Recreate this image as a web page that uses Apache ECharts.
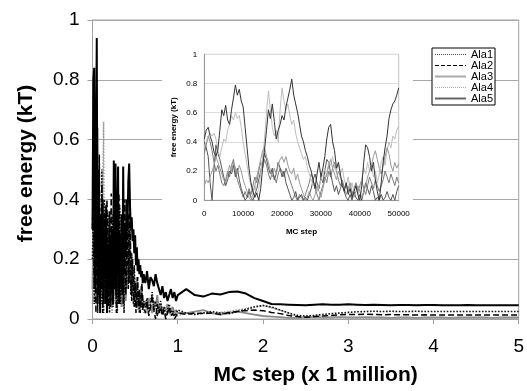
<!DOCTYPE html>
<html><head><meta charset="utf-8">
<script src="https://cdn.jsdelivr.net/npm/echarts@6/dist/echarts.min.js"></script>
<style>html,body{margin:0;padding:0;background:#fff}#c{width:527px;height:391px}</style>
</head><body><div id="c"></div>
<script>
// ---------- main chart data (x in millions of MC steps) ----------
const xMain = [
0,0.01,0.02,0.03,0.04,0.05,0.06,0.07,0.08,0.09,
0.10,0.11,0.12,0.13,0.14,0.15,0.16,0.17,0.18,0.19,
0.20,0.21,0.22,0.23,0.24,0.25,0.26,0.27,0.28,0.29,
0.30,0.31,0.32,0.33,0.34,0.35,0.36,0.37,0.38,0.39,
0.40,0.41,0.42,0.43,0.44,0.45,0.46,0.47,0.48,0.49,
0.50,0.51,0.52,0.53,0.54,0.55,0.56,0.57,0.58,0.59,0.60,
0.62,0.64,0.66,0.68,0.70,0.72,0.74,0.76,0.78,0.80,
0.82,0.84,0.86,0.88,0.90,0.92,0.94,0.96,0.98,1.00,
1.1,1.2,1.3,1.4,1.5,1.6,1.7,1.8,1.9,2.0,
2.1,2.2,2.3,2.4,2.5,2.6,2.7,2.8,2.9,3.0,
3.1,3.2,3.3,3.4,3.5,3.6,3.7,3.8,3.9,4.0,
4.1,4.2,4.3,4.4,4.5,4.6,4.7,4.8,4.9,5.0];

const mainAla1 = [
0.20,0.40,0.05,0.60,0.15,0.30,0.02,0.45,0.10,0.35,
0.05,0.50,0.20,0.02,0.40,0.10,0.30,0.05,0.35,0.15,
0.02,0.28,0.10,0.35,0.04,0.20,0.32,0.08,0.25,0.02,
0.30,0.12,0.38,0.05,0.22,0.15,0.32,0.02,0.20,0.28,
0.10,0.25,0.35,0.12,0.30,0.08,0.22,0.15,0.05,0.18,
0.08,0.12,0.04,0.10,0.06,0.02,0.08,0.04,0.09,0.03,0.06,
0.04,0.07,0.02,0.05,0.09,0.03,0.06,0.01,0.04,0.06,
0.02,0.04,0.01,0.03,0.05,0.02,0.03,0.01,0.02,0.03,
0.02,0.015,0.02,0.025,0.02,0.018,0.025,0.032,0.04,0.045,
0.04,0.03,0.02,0.012,0.01,0.012,0.015,0.018,0.02,0.022,
0.024,0.025,0.026,0.025,0.026,0.025,0.025,0.026,0.025,0.025,
0.025,0.025,0.025,0.025,0.025,0.025,0.025,0.025,0.025,0.025];

const mainAla2 = [
0.30,0.55,0.10,0.40,0.02,0.48,0.20,0.08,0.55,0.05,
0.30,0.45,0.02,0.22,0.35,0.05,0.28,0.40,0.10,0.04,
0.30,0.18,0.42,0.06,0.25,0.12,0.30,0.20,0.02,0.38,
0.15,0.42,0.05,0.25,0.10,0.30,0.05,0.22,0.40,0.08,
0.20,0.35,0.10,0.28,0.40,0.15,0.06,0.20,0.10,0.04,
0.12,0.02,0.08,0.14,0.04,0.10,0.02,0.06,0.12,0.03,0.05,
0.02,0.06,0.01,0.04,0.08,0.03,0.00,0.05,0.02,0.04,
0.01,0.03,0.00,0.02,0.04,0.01,0.02,0.00,0.01,0.02,
0.015,0.02,0.018,0.02,0.015,0.022,0.025,0.028,0.03,0.028,
0.022,0.018,0.012,0.008,0.006,0.008,0.01,0.012,0.014,0.015,
0.015,0.016,0.015,0.014,0.015,0.014,0.014,0.013,0.014,0.013,
0.013,0.013,0.013,0.013,0.013,0.013,0.013,0.013,0.013,0.013];

const mainAla3 = [
0.10,0.35,0.20,0.50,0.05,0.40,0.64,0.15,0.30,0.08,
0.25,0.10,0.35,0.18,0.05,0.28,0.12,0.30,0.06,0.22,
0.14,0.26,0.04,0.18,0.30,0.10,0.22,0.05,0.18,0.26,
0.08,0.20,0.12,0.28,0.04,0.16,0.24,0.10,0.18,0.06,
0.15,0.22,0.28,0.18,0.12,0.20,0.10,0.16,0.08,0.12,
0.06,0.10,0.14,0.08,0.04,0.09,0.06,0.11,0.05,0.08,0.04,
0.06,0.03,0.07,0.05,0.02,0.06,0.04,0.08,0.03,0.05,
0.02,0.04,0.03,0.05,0.02,0.03,0.04,0.02,0.03,0.02,
0.02,0.025,0.03,0.02,0.015,0.02,0.025,0.02,0.015,0.01,
0.008,0.006,0.004,0.004,0.005,0.006,0.005,0.005,0.006,0.005,
0.005,0.006,0.005,0.005,0.004,0.005,0.005,0.004,0.005,0.005,
0.005,0.004,0.005,0.005,0.005,0.005,0.004,0.005,0.005,0.005];

const mainAla4 = [
0.05,0.25,0.10,0.40,0.20,0.05,0.35,0.12,0.45,0.20,
0.30,0.08,0.40,0.66,0.15,0.35,0.05,0.25,0.12,0.30,
0.08,0.22,0.15,0.02,0.28,0.18,0.06,0.25,0.12,0.20,
0.05,0.18,0.26,0.10,0.20,0.04,0.15,0.28,0.12,0.22,
0.18,0.30,0.14,0.22,0.32,0.10,0.16,0.08,0.14,0.06,
0.10,0.04,0.08,0.03,0.07,0.02,0.05,0.08,0.03,0.06,0.02,
0.05,0.02,0.04,0.06,0.02,0.03,0.05,0.01,0.03,0.02,
0.04,0.02,0.01,0.03,0.02,0.01,0.02,0.01,0.02,0.01,
0.02,0.015,0.02,0.018,0.022,0.025,0.03,0.035,0.042,0.045,
0.038,0.03,0.02,0.01,0.005,0.004,0.004,0.005,0.006,0.005,
0.004,0.003,0.004,0.003,0.003,0.004,0.003,0.003,0.003,0.003,
0.003,0.003,0.003,0.003,0.003,0.003,0.003,0.003,0.003,0.003];

const mainAla5 = [
0.30,0.80,0.84,0.10,0.52,0.94,0.05,0.50,0.20,0.02,
0.35,0.10,0.40,0.05,0.30,0.15,0.38,0.02,0.25,0.10,
0.36,0.04,0.20,0.30,0.05,0.53,0.10,0.52,0.08,0.30,
0.51,0.05,0.28,0.12,0.35,0.08,0.51,0.15,0.32,0.22,
0.40,0.30,0.46,0.52,0.38,0.30,0.34,0.26,0.30,0.22,
0.28,0.18,0.24,0.16,0.20,0.15,0.18,0.14,0.16,0.12,0.15,
0.12,0.16,0.10,0.14,0.13,0.11,0.15,0.12,0.10,0.08,
0.11,0.07,0.09,0.06,0.08,0.10,0.07,0.09,0.06,0.08,
0.10,0.08,0.075,0.085,0.082,0.09,0.092,0.085,0.07,0.06,
0.05,0.049,0.048,0.047,0.046,0.048,0.049,0.048,0.048,0.049,
0.048,0.047,0.048,0.047,0.046,0.047,0.047,0.046,0.047,0.047,
0.046,0.046,0.046,0.047,0.046,0.046,0.046,0.046,0.046,0.046];

// ---------- inset data (first 50000 MC steps) ----------
const xInset = [
0,500,1000,1500,2000,2500,3000,3500,4000,4500,
5000,5500,6000,6500,7000,7500,8000,8500,9000,9500,
10000,10500,11000,11500,12000,12500,13000,13500,14000,14500,
15000,15500,16000,16500,17000,17500,18000,18500,19000,19500,
20000,20500,21000,21500,22000,22500,23000,23500,24000,24500,
25000,25500,26000,26500,27000,27500,28000,28500,29000,29500,
30000,30500,31000,31500,32000,32500,33000,33500,34000,34500,
35000,35500,36000,36500,37000,37500,38000,38500,39000,39500,
40000,40500,41000,41500,42000,42500,43000,43500,44000,44500,
45000,45500,46000,46500,47000,47500,48000,48500,49000,49500,50000];

const insetAla1 = [
0.32,0.38,0.44,0.40,0.34,0.26,0.20,0.24,0.18,0.12,
0.10,0.14,0.20,0.16,0.24,0.28,0.20,0.14,0.10,0.06,
0.02,0.06,0.02,0.08,0.04,0.10,0.16,0.12,0.20,0.26,
0.22,0.28,0.24,0.18,0.14,0.20,0.16,0.12,0.18,0.22,
0.20,0.16,0.22,0.18,0.14,0.10,0.06,0.02,0.00,0.04,
0.02,0.00,0.04,0.08,0.12,0.18,0.14,0.08,0.04,0.00,
0.06,0.10,0.16,0.12,0.20,0.16,0.22,0.26,0.20,0.14,
0.10,0.14,0.08,0.12,0.06,0.10,0.04,0.08,0.12,0.06,
0.10,0.14,0.08,0.04,0.10,0.16,0.12,0.08,0.14,0.10,
0.06,0.10,0.14,0.20,0.16,0.12,0.18,0.14,0.10,0.16,0.12];

const insetAla2 = [
0.40,0.36,0.30,0.12,0.00,0.22,0.38,0.32,0.28,0.22,
0.16,0.10,0.14,0.20,0.18,0.24,0.16,0.22,0.14,0.08,
0.04,0.00,0.02,0.06,0.02,0.00,0.04,0.08,0.14,0.20,
0.26,0.32,0.28,0.22,0.18,0.22,0.14,0.18,0.26,0.22,
0.16,0.20,0.12,0.08,0.04,0.00,0.02,0.06,0.00,0.02,
0.04,0.00,0.02,0.00,0.04,0.08,0.14,0.18,0.12,0.08,
0.16,0.12,0.20,0.28,0.26,0.18,0.12,0.06,0.10,0.04,
0.08,0.12,0.06,0.02,0.00,0.04,0.00,0.06,0.02,0.00,
0.04,0.00,0.06,0.12,0.08,0.04,0.10,0.06,0.00,0.02,
0.00,0.04,0.00,0.02,0.06,0.02,0.00,0.04,0.00,0.06,0.10];

const insetAla3 = [
0.36,0.40,0.44,0.46,0.44,0.46,0.42,0.34,0.30,0.36,
0.42,0.40,0.48,0.52,0.58,0.55,0.60,0.56,0.58,0.50,
0.40,0.32,0.24,0.16,0.10,0.06,0.10,0.04,0.08,0.18,
0.30,0.42,0.60,0.75,0.62,0.50,0.44,0.48,0.40,0.62,
0.77,0.68,0.62,0.66,0.58,0.52,0.55,0.46,0.40,0.36,
0.32,0.28,0.30,0.22,0.18,0.14,0.10,0.12,0.06,0.10,
0.14,0.18,0.22,0.16,0.26,0.24,0.30,0.22,0.20,0.26,
0.18,0.22,0.14,0.10,0.16,0.08,0.12,0.06,0.10,0.04,
0.08,0.14,0.22,0.18,0.26,0.20,0.24,0.16,0.20,0.12,
0.18,0.26,0.30,0.24,0.34,0.40,0.36,0.44,0.42,0.48,0.51];

const insetAla4 = [
0.10,0.14,0.12,0.16,0.20,0.24,0.30,0.26,0.22,0.18,
0.14,0.12,0.18,0.24,0.20,0.26,0.22,0.18,0.24,0.20,
0.14,0.10,0.06,0.02,0.00,0.04,0.10,0.16,0.22,0.28,
0.34,0.36,0.30,0.26,0.20,0.16,0.22,0.18,0.24,0.28,
0.30,0.26,0.30,0.24,0.20,0.18,0.22,0.14,0.18,0.12,
0.08,0.04,0.00,0.02,0.06,0.02,0.00,0.04,0.10,0.06,
0.02,0.08,0.14,0.18,0.24,0.28,0.22,0.18,0.14,0.20,
0.16,0.12,0.08,0.04,0.08,0.12,0.06,0.02,0.06,0.10,
0.06,0.02,0.06,0.10,0.16,0.20,0.24,0.30,0.34,0.28,
0.22,0.18,0.24,0.30,0.36,0.32,0.24,0.20,0.26,0.22,0.25];

const insetAla5 = [
0.42,0.48,0.50,0.44,0.40,0.33,0.30,0.35,0.48,0.62,
0.58,0.65,0.55,0.52,0.62,0.70,0.79,0.72,0.76,0.68,
0.64,0.50,0.36,0.22,0.12,0.06,0.02,0.05,0.00,0.08,
0.22,0.35,0.48,0.62,0.56,0.66,0.54,0.42,0.48,0.52,
0.58,0.55,0.64,0.70,0.76,0.83,0.72,0.66,0.60,0.52,
0.44,0.40,0.34,0.30,0.24,0.20,0.14,0.08,0.18,0.26,
0.16,0.22,0.30,0.42,0.50,0.52,0.40,0.34,0.22,0.26,
0.18,0.10,0.06,0.12,0.04,0.08,0.02,0.06,0.10,0.04,
0.00,0.10,0.26,0.38,0.36,0.30,0.20,0.26,0.14,0.06,
0.00,0.12,0.26,0.36,0.44,0.56,0.62,0.66,0.68,0.72,0.77];

const names = ['Ala1','Ala2','Ala3','Ala4','Ala5'];

// ---------- styles ----------
const FONT = 'Liberation Sans, Arial, Helvetica, sans-serif';
const legendStyles = {
  Ala1:{color:'#555',width:1,type:'dotted'},
  Ala2:{color:'#000',width:1,type:'dashed'},
  Ala3:{color:'#aaa',width:2,type:'solid'},
  Ala4:{color:'#aaa',width:1,type:'dotted'},
  Ala5:{color:'#666',width:2,type:'solid'}
};
const mainStyles = {
  Ala1:{color:'#111',width:1.6,type:'dotted'},
  Ala2:{color:'#000',width:1.5,type:'dashed'},
  Ala3:{color:'#8a8a8a',width:1.8,type:'solid'},
  Ala4:{color:'#999',width:1.5,type:'dotted'},
  Ala5:{color:'#000',width:2,type:'solid'}
};
const insetStyles = {
  Ala1:{color:'#7a7a7a',width:1,type:'solid'},
  Ala2:{color:'#555',width:1,type:'solid'},
  Ala3:{color:'#bdbdbd',width:1,type:'solid'},
  Ala4:{color:'#999',width:1,type:'solid'},
  Ala5:{color:'#333',width:1,type:'solid'}
};
const mainData = {Ala1:mainAla1,Ala2:mainAla2,Ala3:mainAla3,Ala4:mainAla4,Ala5:mainAla5};
const insetData = {Ala1:insetAla1,Ala2:insetAla2,Ala3:insetAla3,Ala4:insetAla4,Ala5:insetAla5};
const pairs = (xs, ys) => ys.map((y,i)=>[xs[i],y]);

const series = [];
['Ala1','Ala2','Ala3','Ala4','Ala5'].forEach(n=>{
  series.push({type:'line',name:n,xAxisIndex:1,yAxisIndex:1,data:pairs(xInset,insetData[n]),
    symbol:'none',showSymbol:false,z:8,lineStyle:insetStyles[n],itemStyle:{color:insetStyles[n].color},
    animation:false,emphasis:{disabled:true}});
});
['Ala3','Ala4','Ala1','Ala2','Ala5'].forEach(n=>{
  series.push({type:'line',name:n,xAxisIndex:0,yAxisIndex:0,data:pairs(xMain,mainData[n]),
    symbol:'none',showSymbol:false,z:2,lineStyle:mainStyles[n],itemStyle:{color:mainStyles[n].color},
    animation:false,emphasis:{disabled:true}});
});

const chart = echarts.init(document.getElementById('c'),null,{renderer:'canvas'});
chart.setOption({
  animation:false,
  backgroundColor:'#fff',
  grid:[
    {left:92.5,top:20,width:429.5,height:300.7,show:true,borderColor:'#a0a0a0',borderWidth:1,z:0},
    {left:204.3,top:54.3,width:194.4,height:146,show:true,borderColor:'#c0c0c0',borderWidth:1,backgroundColor:'#fff',z:6}
  ],
  graphic:[{type:'rect',shape:{x:162,y:30,width:251,height:210},style:{fill:'#fff'},z:5,silent:true}],
  xAxis:[
    {type:'value',gridIndex:0,min:0,max:5,interval:1,z:0,
     axisLine:{show:true,lineStyle:{color:'#a0a0a0'}},
     axisTick:{show:true,length:5,inside:false,lineStyle:{color:'#a0a0a0'}},
     splitLine:{show:false},
     axisLabel:{color:'#000',fontSize:19,fontFamily:FONT,margin:18},
     name:'MC step (x 1 million)',nameLocation:'middle',nameGap:46,
     nameTextStyle:{color:'#000',fontSize:21,fontWeight:'bold',fontFamily:FONT,padding:[0,0,0,20]}},
    {type:'value',gridIndex:1,min:0,max:50000,interval:10000,z:6,
     axisLine:{show:true,lineStyle:{color:'#999'}},
     axisTick:{show:false},
     splitLine:{show:false},
     axisLabel:{color:'#000',fontSize:8,fontFamily:FONT,margin:9,formatter:v=>String(v)},
     name:'MC step',nameLocation:'middle',nameGap:27,
     nameTextStyle:{color:'#000',fontSize:8,fontWeight:'bold',fontFamily:FONT}}
  ],
  yAxis:[
    {type:'value',gridIndex:0,min:0,max:1,interval:0.2,z:0,
     axisLine:{show:true,lineStyle:{color:'#a0a0a0'}},
     axisTick:{show:true,length:5,lineStyle:{color:'#a0a0a0'}},
     splitLine:{show:true,lineStyle:{color:'#a8a8a8',width:1}},
     axisLabel:{color:'#000',fontSize:19,fontFamily:FONT,margin:13,formatter:v=>String(+v.toFixed(1))},
     name:'free energy (kT)',nameLocation:'middle',nameGap:56,
     nameTextStyle:{color:'#000',fontSize:21,fontWeight:'bold',fontFamily:FONT,padding:[0,0,0,12]}},
    {type:'value',gridIndex:1,min:0,max:1,interval:0.2,z:6,
     axisLine:{show:true,lineStyle:{color:'#999'}},
     axisTick:{show:false},
     splitLine:{show:true,lineStyle:{color:'#dcdcdc',width:1}},
     axisLabel:{color:'#000',fontSize:8,fontFamily:FONT,margin:7,formatter:v=>String(+v.toFixed(1))},
     name:'free energy (kT)',nameLocation:'middle',nameGap:27,
     nameTextStyle:{color:'#000',fontSize:8,fontWeight:'bold',fontFamily:FONT}}
  ],
  legend:{
    show:true,orient:'vertical',left:432,top:48,z:20,
    padding:[1,2,1,2],itemGap:0,itemWidth:31,itemHeight:10,
    backgroundColor:'#fff',borderColor:'#000',borderWidth:1,
    selectedMode:false,
    textStyle:{color:'#000',fontSize:11,fontFamily:FONT,lineHeight:10,height:10},
    data:names.map(n=>({name:n,lineStyle:legendStyles[n],itemStyle:{color:legendStyles[n].color,opacity:0}}))
  },
  series:series
});
</script>
</body></html>
